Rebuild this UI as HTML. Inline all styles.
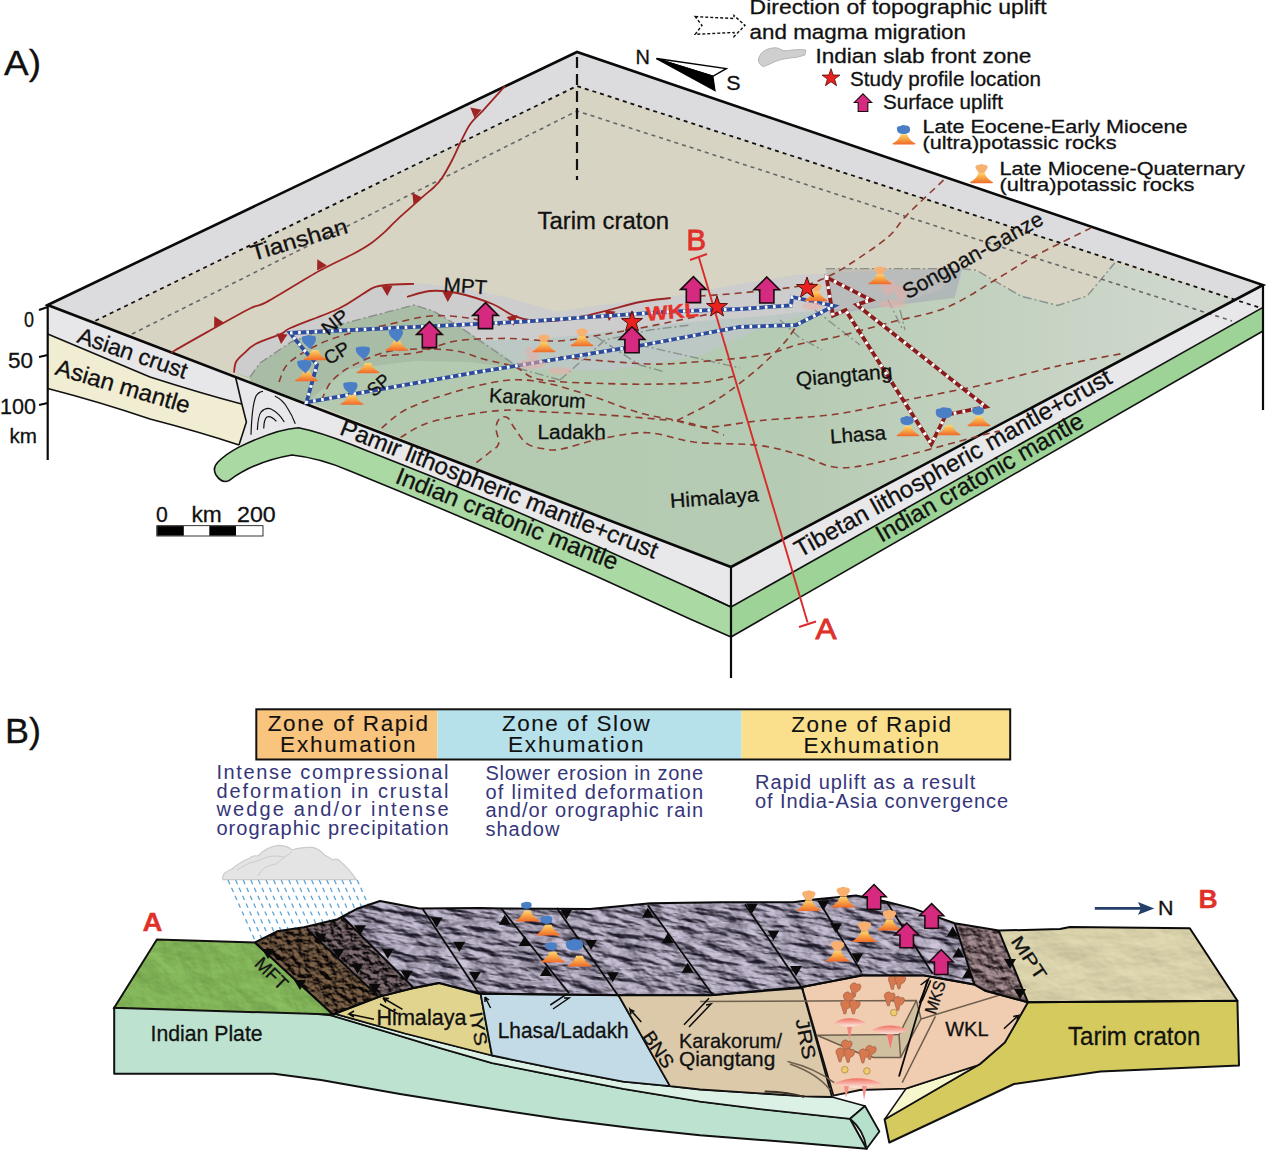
<!DOCTYPE html><html><head><meta charset="utf-8"><style>html,body{margin:0;padding:0;background:#fff;}svg{display:block}</style></head><body><svg width="1266" height="1152" viewBox="0 0 1266 1152"><path d="M47.7,305 L235.3,376 L241.6,403 L150,377 Q90,352 47.7,334 Z" fill="#e7e7ea" stroke="none"/>
<path d="M47.7,334 Q90,352 150,377 Q200,393 241.6,404 L246.4,422 L239,445 Q200,432 150,419 Q100,402 47.7,388.5 Z" fill="#f1edd3" stroke="none"/>
<path d="M235.3,376 L731,567 L731,607 L690,588 Q520,510 350,444 Q320,432 298.5,427.7 Q276,429 238.5,447.4 L246.4,422 L241.6,403 Z" fill="#e8e8ea"/>
<path d="M238.5,447.4 Q276,429 298.5,427.7 Q320,432 350,444 Q520,510 690,588 L731,607 L731,637 L690,619 Q520,540 350,471 Q320,458 292,455 Q254,461.6 229,480.6 Q222,484 216,475 Q212,468 218,462 Q226,454 238.5,447.4 Z" fill="#aad9a3" stroke="#111" stroke-width="1.6"/>
<path d="M731,567 L1263,285 L1263,307.4 L731,607 Z" fill="#e8e7ea"/>
<path d="M731,607 L1263,307.4 L1263,331 L731,637 Z" fill="#9dd396"/>
<g fill="none" stroke="#111" stroke-width="1.6"><path d="M47.7,334 Q90,352 150,377 Q200,393 241.6,404"/><path d="M47.7,388.5 Q100,402 150,419 Q200,432 239,445"/><path d="M235.3,376 L241.6,403 L246.4,422 L239,445"/><path d="M731,607 L1263,307.4"/><path d="M731,637 L1263,331"/><path d="M690,588 L731,607"/></g>
<g fill="none" stroke="#111" stroke-width="1.2"><path d="M251,434.8 Q252,405 256,396 Q259,391.5 263,391.3"/><path d="M257.4,430 Q258,416 261,412 Q266,407 271,409 Q279,413 284.3,422"/><path d="M263.7,428.5 Q264,419 267,417 Q271,415.5 276.4,421.4"/><path d="M274.8,396 Q283,400 287.4,408 Q292,415 295.3,423.7"/></g>
<polygon points="577.0,52.0 1263.0,285.0 731.0,567.0 47.7,305.0" fill="#d8d4c4"/>
<polygon points="47.7,305.0 577.0,52.0 1263.0,285.0 1236.0,299.3 1232.0,298.3 577.0,86.0 95.4,321.0" fill="#dcdcde"/>
<defs><linearGradient id="gg" x1="0" y1="0" x2="1" y2="0"><stop offset="0" stop-color="#b2c9af"/><stop offset="0.55" stop-color="#b6cbb3"/><stop offset="1" stop-color="#d2d9cf"/></linearGradient></defs>
<polygon points="234.0,373.0 250.0,377.0 260.0,363.0 291.0,342.0 338.0,325.0 414.0,305.0 433.0,311.0 457.0,325.0 480.0,340.0 530.0,340.0 590.0,334.0 650.0,326.0 700.0,321.0 764.0,316.0 800.0,312.0 846.0,309.0 880.0,306.0 910.0,300.0 940.0,290.0 960.0,270.0 975.0,271.0 1011.0,291.0 1056.0,305.0 1088.0,297.0 1113.0,263.0 1235.7,299.4 731.0,567.0" fill="url(#gg)"/>
<polygon points="250.0,377.0 260.0,363.0 291.0,342.0 338.0,325.0 414.0,305.0 433.0,311.0 457.0,325.0 500.0,352.0 521.0,369.0 470.0,362.0 415.0,361.0 349.0,369.0 319.0,392.0 306.0,403.6 250.0,382.5" fill="#a9bca6"/>
<polygon points="234.0,373.0 238.0,358.0 255.0,344.0 291.0,328.0 338.0,309.0 374.0,288.0 414.0,283.0 456.0,287.0 506.0,297.0 557.0,312.0 600.0,305.0 670.0,297.0 740.0,284.0 797.0,275.0 892.0,270.0 963.0,269.0 956.0,296.0 910.0,304.0 873.0,308.0 846.0,314.0 797.0,318.0 764.0,327.0 700.0,356.0 607.0,371.0 521.0,369.0 457.0,325.0 433.0,311.0 414.0,305.0 338.0,325.0 291.0,342.0 260.0,363.0 250.0,377.0" fill="rgb(196,198,214)" fill-opacity="0.5"/>
<polygon points="825.8,268.6 962,268.6 954.6,298 892,305.4 829.4,314.6" fill="rgb(120,125,122)" fill-opacity="0.22"/>
<g fill="none" stroke="#8a8f8a" stroke-width="1.4" stroke-dasharray="9,3,2,3"><path d="M250,377 L260,363 L291,342 L338,325 L414,305 L433,311 L457,325 L521,369 L560,380"/><path d="M560,380 L605,340 L650,330 L690,325"/><path d="M826,268.6 L962,268.6"/><path d="M962,268.6 L976.7,270.4 L1020.8,296.2 L1057.6,305.4 L1087,296.2 L1114.7,263"/><path d="M595,336 L640,365 L665,372"/><path d="M640,345 L740,368"/><path d="M780,320 L800,338 L822,350"/><path d="M815,310 L860,345"/><path d="M900,310 L905,330"/><path d="M888,300 L903,330"/></g>
<g fill="none" stroke="#111" stroke-width="1.8" stroke-dasharray="4,4"><path d="M95.4,320.8 L577,86 L1258.8,307.4"/></g>
<g fill="none" stroke="#666" stroke-width="1.6" stroke-dasharray="4,4"><path d="M132,334 L577,111 L1232,321"/></g>
<path d="M577,57 L577,180" stroke="#111" stroke-width="2.2" stroke-dasharray="11,6" fill="none"/>
<g fill="none" stroke="#0a0a0a" stroke-width="2.6" stroke-linejoin="miter"><path d="M47.7,305 L577,52 L1263,285 L731,567 Z"/></g>
<g fill="none" stroke="#0a0a0a" stroke-width="2.2"><path d="M47.7,305 L47.7,460"/><path d="M731,567 L731,678"/><path d="M1263,285 L1263,410"/><path d="M39,310 L47.7,307"/><path d="M39,357 L47.7,355"/><path d="M39,405 L47.7,403"/></g>
<g fill="none" stroke="#8e3a30" stroke-width="1.6" stroke-dasharray="7,5"><path d="M279.0,382.0 C280.6,378.8 281.9,369.3 288.7,363.0 C295.4,356.7 308.8,349.1 319.5,344.0 C330.2,338.9 341.6,335.6 352.7,332.4 C363.8,329.2 373.1,327.7 386.0,325.0 C398.9,322.3 416.3,317.2 430.0,316.0 C443.7,314.8 456.3,316.5 468.0,318.0 C479.7,319.5 494.7,323.8 500.0,325.0"/><path d="M321.6,400.0 C323.2,397.0 326.3,387.5 331.0,382.0 C335.7,376.5 340.8,372.0 350.0,367.0 C359.2,362.0 374.2,355.0 386.0,352.0 C397.8,349.0 409.2,349.2 421.0,349.0 C432.8,348.8 446.7,349.3 457.0,351.0 C467.3,352.7 473.3,356.3 483.0,359.0 C492.7,361.7 505.5,363.6 515.0,367.0 C524.5,370.4 524.8,376.8 540.0,379.6 C555.2,382.4 585.3,382.9 606.0,383.6 C626.7,384.3 647.3,384.3 664.0,384.0 C680.7,383.7 693.5,383.5 706.0,382.0 C718.5,380.5 733.5,376.2 739.0,375.0"/><path d="M381.7,428.0 C385.9,424.8 395.4,414.8 407.0,409.0 C418.6,403.2 434.7,397.8 451.0,393.0 C467.3,388.2 489.2,382.2 505.0,380.5 C520.8,378.8 531.0,380.2 546.0,383.0 C561.0,385.8 579.4,392.3 595.0,397.3 C610.6,402.3 625.8,408.9 639.5,412.8 C653.2,416.7 666.9,418.3 677.0,420.5 C687.1,422.7 692.2,423.6 700.0,426.0 C707.8,428.4 720.0,433.5 724.0,435.0"/><path d="M400.6,437.4 C405.8,434.8 415.7,426.1 432.0,421.6 C448.3,417.1 479.6,412.2 498.6,410.6 C517.6,409.0 528.1,411.3 546.0,412.0 C563.9,412.7 584.8,413.6 606.0,415.0 C627.2,416.4 661.8,419.6 673.0,420.5"/><path d="M677.0,421.0 C682.2,422.0 694.0,427.1 708.0,427.0 C722.0,426.9 739.5,422.7 761.0,420.5 C782.5,418.3 811.9,417.6 836.8,414.0 C861.7,410.4 885.9,404.1 910.4,399.2 C934.9,394.3 959.5,390.0 984.0,384.5 C1008.5,379.0 1034.3,371.3 1057.6,366.1 C1080.9,360.9 1112.9,355.4 1123.9,353.2"/><path d="M476.4,462.7 C478.7,460.9 486.3,455.2 490.0,452.0 C493.7,448.8 497.6,447.7 498.6,443.7 C499.6,439.7 495.8,432.3 496.0,428.0 C496.2,423.7 498.0,419.7 500.0,418.0 C502.0,416.3 505.6,416.3 508.0,418.0 C510.4,419.7 511.2,423.7 514.4,428.0 C517.6,432.3 521.9,440.2 527.0,443.7 C532.1,447.2 539.2,448.1 545.0,449.0 C550.8,449.9 552.6,450.7 561.8,449.0 C571.0,447.3 585.7,441.7 600.0,439.0 C614.3,436.3 631.6,432.2 647.4,432.7 C663.2,433.2 676.4,440.1 694.8,442.2 C713.2,444.3 740.5,443.2 758.0,445.3 C775.5,447.4 786.8,451.3 800.0,455.0 C813.2,458.7 822.9,466.5 837.0,467.5 C851.1,468.5 860.7,466.3 884.4,461.0 C908.1,455.7 959.7,440.9 979.0,435.9 C998.3,430.9 996.5,431.8 1000.0,431.0"/><path d="M560.0,357.0 C564.8,357.4 573.6,358.5 588.7,359.7 C603.8,360.9 632.9,363.6 650.6,364.0 C668.3,364.4 676.4,363.4 694.8,362.0 C713.2,360.6 743.7,358.3 761.2,355.3 C778.7,352.3 787.4,347.1 800.0,344.0 C812.6,340.9 821.5,340.4 836.8,336.7 C852.1,333.0 873.6,326.9 892.0,322.0 C910.4,317.1 929.4,314.6 947.2,307.2 C965.0,299.8 984.0,286.4 998.7,277.8 C1013.4,269.2 1020.1,264.0 1035.5,255.7 C1050.8,247.4 1081.6,232.7 1090.8,228.1"/><path d="M943.5,180.2 C937.4,186.0 916.0,205.7 906.7,215.2 C897.5,224.7 897.2,229.0 888.0,237.0 C878.8,245.0 861.8,256.2 851.5,263.0 C841.2,269.8 834.6,273.7 826.0,277.5 C817.4,281.3 814.3,283.4 800.0,286.0 C785.7,288.6 756.7,291.3 740.0,293.0 C723.3,294.7 706.7,295.5 700.0,296.0"/><path d="M677.0,420.5 C683.7,417.0 704.8,407.1 717.0,399.5 C729.2,391.9 740.8,382.6 750.0,375.2 C759.2,367.8 766.0,361.4 772.3,355.3 C778.6,349.2 783.3,344.2 787.7,338.7 C792.1,333.1 796.9,324.8 798.8,322.0"/><path d="M380.0,356.0 C386.3,355.4 405.4,354.8 418.0,352.3 C430.6,349.8 441.1,343.3 455.8,341.0 C470.5,338.7 489.5,338.4 506.4,338.4 C523.3,338.4 542.2,341.4 557.0,341.0 C571.8,340.6 582.4,337.7 595.0,335.8 C607.6,333.9 618.1,332.2 632.8,329.5 C647.5,326.8 668.5,322.3 683.0,319.4 C697.5,316.5 713.8,313.2 720.0,312.0"/></g>
<path d="M826.5,277.3 L833,315.6 L845.6,310.2 L931.3,444.1 L945.9,415 L986,406.8 L856.6,304.7 L871.1,300.1 Z" fill="none" stroke="#8a1c1c" stroke-width="3.8" stroke-linejoin="miter"/>
<path d="M826.5,277.3 L833,315.6 L845.6,310.2 L931.3,444.1 L945.9,415 L986,406.8 L856.6,304.7 L871.1,300.1 Z" fill="none" stroke="#fff" stroke-width="3.4" stroke-dasharray="2.8,6.2"/>
<g fill="none" stroke="#9e2424" stroke-width="1.8"><path d="M505.0,86.0 C504.2,87.0 503.7,87.5 500.0,91.7 C496.3,95.9 487.6,105.5 482.7,110.9 C477.8,116.3 474.0,118.7 470.3,123.9 C466.6,129.1 463.7,136.0 460.7,142.0 C457.7,148.0 455.3,154.0 452.2,160.0 C449.1,166.0 445.0,173.5 442.0,178.0 C439.0,182.5 437.5,183.8 434.2,187.0 C430.9,190.2 428.5,191.7 422.3,197.2 C416.1,202.7 403.4,213.9 397.0,219.8 C390.6,225.7 388.5,228.6 384.0,232.6 C379.5,236.6 375.0,240.5 370.0,244.0 C365.0,247.5 362.4,249.0 354.0,253.5 C345.6,258.0 333.9,262.8 319.5,270.8 C305.1,278.8 279.0,295.3 267.4,301.6 C255.8,307.9 259.9,303.5 250.0,308.5 C240.1,313.5 220.5,324.6 208.0,331.6 C195.5,338.6 180.8,346.9 174.8,350.5 C168.8,354.1 172.5,352.6 172.0,353.0"/><path d="M234.0,372.7 C234.3,370.9 234.4,365.2 236.0,362.0 C237.6,358.8 240.4,356.7 243.7,353.7 C246.9,350.7 249.2,347.4 255.5,344.0 C261.8,340.6 275.7,336.3 281.6,333.6 C287.5,330.9 281.5,331.9 291.0,327.7 C300.5,323.5 326.7,314.2 338.5,308.7 C350.3,303.2 356.1,298.1 362.0,294.5 C367.9,290.9 370.0,289.0 374.0,287.4 C378.0,285.8 379.3,285.6 386.0,285.0 C392.7,284.4 409.3,284.0 414.0,283.8"/><path d="M407.0,297.0 C410.8,296.0 421.7,291.7 430.0,291.0 C438.3,290.3 446.6,290.8 457.0,293.0 C467.4,295.2 483.0,300.2 492.5,304.0 C502.0,307.8 506.7,313.0 513.8,315.8 C520.9,318.6 527.8,320.2 535.0,321.0 C542.2,321.8 548.7,321.5 557.0,320.7 C565.3,319.9 576.6,317.7 585.0,316.0 C593.4,314.3 598.3,312.8 607.5,310.5 C616.7,308.2 629.5,304.1 640.0,302.0 C650.5,299.9 665.6,298.7 670.7,298.0"/></g>
<polygon points="481.5,109.8 474.5,118.2 470.3,107.6" fill="#9e2424"/>
<polygon points="422.5,197.8 413.5,204.2 412.3,192.8" fill="#9e2424"/>
<polygon points="326.9,265.4 317.1,270.6 317.3,259.2" fill="#9e2424"/>
<polygon points="223.9,322.4 214.1,327.6 214.3,316.2" fill="#9e2424"/>
<polygon points="276.5,333.5 287.5,334.5 281.1,344.0" fill="#9e2424"/>
<polygon points="381.5,286.2 392.5,285.8 387.3,296.0" fill="#9e2424"/>
<polygon points="506.6,317.0 517.4,315.0 513.7,325.8" fill="#9e2424"/>
<polygon points="604.5,310.5 615.5,311.5 609.1,321.0" fill="#9e2424"/>
<polygon points="442.5,291.8 453.5,292.2 447.7,302.0" fill="#9e2424"/>
<g stroke="#d82c2a" stroke-width="1.9" fill="none"><path d="M698.6,256.6 L807.6,622.4"/><path d="M690,260 L707,254"/><path d="M799,627 L816,621.5"/></g>
<polygon points="290.0,333.0 520.0,321.8 669.6,311.6 740.0,309.0 791.0,305.4 792.0,297.0 834.0,306.0 796.0,325.0 740.0,327.0 638.0,346.0 480.0,371.7 306.5,402.3 317.0,364.4 305.3,351.4" fill="none" stroke="#2d4b9c" stroke-width="3.8"/>
<polygon points="290.0,333.0 520.0,321.8 669.6,311.6 740.0,309.0 791.0,305.4 792.0,297.0 834.0,306.0 796.0,325.0 740.0,327.0 638.0,346.0 480.0,371.7 306.5,402.3 317.0,364.4 305.3,351.4" fill="none" stroke="#fff" stroke-width="3.2" stroke-dasharray="2.6,5.6"/>
<defs><linearGradient id="vg" x1="0" y1="0" x2="0" y2="1"><stop offset="0" stop-color="#fcd672"/><stop offset="0.45" stop-color="#f9a646"/><stop offset="1" stop-color="#ee6a2c"/></linearGradient><g id="arw"><path d="M0,-13 L12.8,-0.2 L7.1,-0.2 L7.1,13 L-7.1,13 L-7.1,-0.2 L-12.8,-0.2 Z" fill="#d52a7f" stroke="#1a0a10" stroke-width="1.6" stroke-linejoin="miter"/></g><g id="star"><path d="M0,-11 L2.6,-3.5 L10.5,-3.4 L4.2,1.3 L6.5,9 L0,4.4 L-6.5,9 L-4.2,1.3 L-10.5,-3.4 L-2.6,-3.5 Z" fill="#e8221e" stroke="#5a1010" stroke-width="1"/></g><g id="vol"><path d="M-3.2,-5 L3.2,-5 Q5,1 11.5,4.3 Q12,5.2 10,5.2 L-10,5.2 Q-12,5.2 -11.5,4.3 Q-5,1 -3.2,-5 Z" fill="url(#vg)"/></g><g id="blob"><path d="M-7,-5.5 Q-1,-7 6,-6 Q8.5,-3 5,2 Q3,5 1,7 Q-2,4 -5,1.5 Q-8,-2 -7,-5.5 Z" fill="#4a7fc6"/></g><g id="blob2"><path d="M-6.5,-1 Q-7.5,-4.5 -3,-4.5 Q-1,-6 2.5,-5 Q6.5,-5 6.5,-1.5 Q7,2 3.5,3 Q0,4 -2.5,3.2 Q-6.5,2.5 -6.5,-1 Z" fill="#4a7fc6"/></g><g id="mcap"><path d="M-2.5,-4.5 L-5.5,-9 Q-6,-12 -2,-12 Q0,-13.5 2,-12 Q6,-12 5.5,-9 L2.5,-4.5 Z" fill="#f8b070"/></g></defs>
<g fill="#e8b0a8" opacity="0.55"><ellipse cx="532" cy="364" rx="14" ry="5"/><ellipse cx="560" cy="371" rx="12" ry="4"/><ellipse cx="893" cy="304" rx="13" ry="4"/><ellipse cx="812" cy="306" rx="10" ry="4"/><path d="M525,352 q4,-10 8,-2 q4,-8 7,2 l-4,10 l-5,0 z"/><path d="M880,285 q4,-10 8,-2 q4,-8 7,2 l-4,10 l-5,0 z"/><path d="M893,290 q4,-10 8,-2 q4,-8 7,2 l-4,10 l-5,0 z"/></g>
<use href="#vol" transform="translate(315,355)"/>
<use href="#blob" transform="translate(309,342)"/>
<use href="#vol" transform="translate(306.5,376)"/>
<use href="#blob" transform="translate(304.5,366.5)"/>
<use href="#vol" transform="translate(368,368)"/>
<use href="#blob" transform="translate(363,353)"/>
<use href="#vol" transform="translate(397,345.5)"/>
<use href="#blob" transform="translate(396,335.5)"/>
<use href="#vol" transform="translate(352,399.5)"/>
<use href="#blob" transform="translate(350.5,388.5)"/>
<use href="#vol" transform="translate(908,431)"/>
<use href="#blob2" transform="translate(907,421.5)"/>
<use href="#vol" transform="translate(949,430)"/>
<use href="#blob2" transform="translate(944,414) scale(1.25)"/>
<use href="#vol" transform="translate(979,421)"/>
<use href="#blob2" transform="translate(978,411.5) scale(0.9)"/>
<use href="#vol" transform="translate(544,347)"/>
<use href="#mcap" transform="translate(544,347)"/>
<use href="#vol" transform="translate(582,341)"/>
<use href="#mcap" transform="translate(582,341)"/>
<use href="#vol" transform="translate(880,279)"/>
<use href="#mcap" transform="translate(880,279)"/>
<use href="#vol" transform="translate(816,296)"/>
<use href="#mcap" transform="translate(816,296)"/>
<use href="#arw" transform="translate(485.5,315.6)"/>
<use href="#arw" transform="translate(429.4,334.6)"/>
<use href="#arw" transform="translate(632,339.7)"/>
<use href="#arw" transform="translate(693.4,289.6)"/>
<use href="#arw" transform="translate(766.8,290)"/>
<use href="#star" transform="translate(632,322)"/>
<use href="#star" transform="translate(717,307)"/>
<use href="#star" transform="translate(807,288)"/>
<g font-family="Liberation Sans, sans-serif" stroke-width="0.3" paint-order="stroke">
<text x="4" y="75.1" font-size="35.5" fill="#111" stroke="#111" textLength="37" lengthAdjust="spacingAndGlyphs">A)</text>
<text x="537.5" y="229" font-size="23" fill="#111" stroke="#111" textLength="131.5" lengthAdjust="spacingAndGlyphs">Tarim craton</text>
<text x="253" y="261" font-size="22" fill="#111" stroke="#111" textLength="100.1" lengthAdjust="spacingAndGlyphs" transform="rotate(-16.43 253 261)">Tianshan</text>
<text x="443.3" y="291.3" font-size="20" fill="#111" stroke="#111" textLength="43.4" lengthAdjust="spacingAndGlyphs" transform="rotate(4 443.3 291.3)">MPT</text>
<text x="327.8" y="336" font-size="19" fill="#111" stroke="#111" textLength="28.7" lengthAdjust="spacingAndGlyphs" transform="rotate(-38.35 327.8 336)">NP</text>
<text x="329" y="365.6" font-size="19" fill="#111" stroke="#111" textLength="26.6" lengthAdjust="spacingAndGlyphs" transform="rotate(-32.26 329 365.6)">CP</text>
<text x="374" y="397.6" font-size="19" fill="#111" stroke="#111" textLength="23.5" lengthAdjust="spacingAndGlyphs" transform="rotate(-40.87 374 397.6)">SP</text>
<text x="488.8" y="402" font-size="20" fill="#111" stroke="#111" textLength="96.7" lengthAdjust="spacingAndGlyphs" transform="rotate(3.7 488.8 402)">Karakorum</text>
<text x="537.5" y="438.9" font-size="20.5" fill="#111" stroke="#111" textLength="68.3" lengthAdjust="spacingAndGlyphs">Ladakh</text>
<text x="796.5" y="386.5" font-size="20.5" fill="#111" stroke="#111" textLength="96.7" lengthAdjust="spacingAndGlyphs" transform="rotate(-5 796.5 386.5)">Qiangtang</text>
<text x="830.6" y="443.4" font-size="20" fill="#111" stroke="#111" textLength="55.9" lengthAdjust="spacingAndGlyphs" transform="rotate(-4 830.6 443.4)">Lhasa</text>
<text x="670.4" y="507.9" font-size="20.5" fill="#111" stroke="#111" textLength="89" lengthAdjust="spacingAndGlyphs" transform="rotate(-4.3 670.4 507.9)">Himalaya</text>
<text x="907.5" y="299.5" font-size="21.5" fill="#111" stroke="#111" textLength="157.1" lengthAdjust="spacingAndGlyphs" transform="rotate(-28.93 907.5 299.5)">Songpan-Ganze</text>
<text x="646.4" y="321" font-size="20" font-weight="bold" fill="#e8302a" stroke="#e8302a" textLength="53" lengthAdjust="spacingAndGlyphs" transform="rotate(-5 646.4 321)">WKL</text>
<text x="686.5" y="250" font-size="29" fill="#e0302a" stroke="#e0302a" stroke-width="0.9" textLength="19.5" lengthAdjust="spacingAndGlyphs">B</text>
<text x="815.5" y="639" font-size="29" fill="#e0302a" stroke="#e0302a" stroke-width="0.9" textLength="21" lengthAdjust="spacingAndGlyphs">A</text>
<text x="76" y="342" font-size="23" fill="#111" stroke="#111" textLength="114.4" lengthAdjust="spacingAndGlyphs" transform="rotate(18.86 76 342)">Asian crust</text>
<text x="54" y="374.2" font-size="23.5" fill="#111" stroke="#111" textLength="139.1" lengthAdjust="spacingAndGlyphs" transform="rotate(16.49 54 374.2)">Asian mantle</text>
<text x="338.5" y="434" font-size="24" fill="#111" stroke="#111" textLength="339.4" lengthAdjust="spacingAndGlyphs" transform="rotate(21.61 338.5 434)">Pamir lithospheric mantle+crust</text>
<text x="394" y="482.5" font-size="24" fill="#111" stroke="#111" textLength="237.3" lengthAdjust="spacingAndGlyphs" transform="rotate(21.8 394 482.5)">Indian cratonic mantle</text>
<text x="800" y="558" font-size="24" fill="#111" stroke="#111" textLength="359.3" lengthAdjust="spacingAndGlyphs" transform="rotate(-29.24 800 558)">Tibetan lithospheric mantle+crust</text>
<text x="881.5" y="543" font-size="24" fill="#111" stroke="#111" textLength="235.2" lengthAdjust="spacingAndGlyphs" transform="rotate(-29.84 881.5 543)">Indian cratonic mantle</text>
<text x="24" y="327" font-size="22" fill="#111" stroke="#111" textLength="10" lengthAdjust="spacingAndGlyphs">0</text>
<text x="8" y="368" font-size="22" fill="#111" stroke="#111" textLength="25" lengthAdjust="spacingAndGlyphs">50</text>
<text x="0" y="414" font-size="22" fill="#111" stroke="#111" textLength="36" lengthAdjust="spacingAndGlyphs">100</text>
<text x="9.5" y="443" font-size="20" fill="#111" stroke="#111" textLength="27.5" lengthAdjust="spacingAndGlyphs">km</text>
<text x="156" y="522" font-size="22" fill="#111" stroke="#111" textLength="11.8" lengthAdjust="spacingAndGlyphs">0</text>
<text x="191.5" y="522" font-size="22" fill="#111" stroke="#111" textLength="30.3" lengthAdjust="spacingAndGlyphs">km</text>
<text x="237" y="522" font-size="22" fill="#111" stroke="#111" textLength="38.7" lengthAdjust="spacingAndGlyphs">200</text>
<rect x="157.2" y="526.1" width="105.4" height="9.5" fill="#fff" stroke="#000" stroke-width="1.6"/><rect x="157.2" y="526.1" width="26.6" height="9.5" fill="#000"/><rect x="209.3" y="526.1" width="26.7" height="9.5" fill="#000"/>
<text x="749.6" y="14.2" font-size="20.5" fill="#111" stroke="#111" textLength="297" lengthAdjust="spacingAndGlyphs">Direction of topographic uplift</text>
<text x="749.6" y="38.5" font-size="20.5" fill="#111" stroke="#111" textLength="216.4" lengthAdjust="spacingAndGlyphs">and magma migration</text>
<text x="815.4" y="62.6" font-size="20.5" fill="#111" stroke="#111" textLength="216" lengthAdjust="spacingAndGlyphs">Indian slab front zone</text>
<text x="850" y="85.7" font-size="19.5" fill="#111" stroke="#111" textLength="191" lengthAdjust="spacingAndGlyphs">Study profile location</text>
<text x="883" y="109.3" font-size="19.5" fill="#111" stroke="#111" textLength="120" lengthAdjust="spacingAndGlyphs">Surface uplift</text>
<text x="922.5" y="132.9" font-size="19" fill="#111" stroke="#111" textLength="265" lengthAdjust="spacingAndGlyphs">Late Eocene-Early Miocene</text>
<text x="922.5" y="149.3" font-size="19" fill="#111" stroke="#111" textLength="194" lengthAdjust="spacingAndGlyphs">(ultra)potassic rocks</text>
<text x="999.5" y="174.7" font-size="19" fill="#111" stroke="#111" textLength="245.4" lengthAdjust="spacingAndGlyphs">Late Miocene-Quaternary</text>
<text x="999.5" y="190.5" font-size="19" fill="#111" stroke="#111" textLength="195" lengthAdjust="spacingAndGlyphs">(ultra)potassic rocks</text>
<text x="635.5" y="64.1" font-size="20" fill="#111" stroke="#111" textLength="14.4" lengthAdjust="spacingAndGlyphs">N</text>
<text x="726.2" y="89.6" font-size="20" fill="#111" stroke="#111" textLength="14.3" lengthAdjust="spacingAndGlyphs">S</text>
</g>
<path d="M656.5,58.6 L726.2,68.6 L712.9,76.3 Z" fill="#fff" stroke="#000" stroke-width="1.5"/><path d="M656.5,58.6 L712.9,76.3 L715,90.7 Z" fill="#000" stroke="#000" stroke-width="1.2"/>
<path d="M695.2,16.6 L734,18.5 L734,15.5 L745,25.4 L734,36.5 L734,32.5 L695.2,34.3 L702,25.4 Z" fill="none" stroke="#111" stroke-width="1.4" stroke-dasharray="3,2"/>
<path d="M758.5,59 Q760,52 768,49 Q776,46.5 780,49 Q784,52 792,50 Q800,49 805.8,50 L805,55 Q797,58 790,58 Q780,59 774,62 Q766,66 763,66.5 Q758,64 758.5,59 Z" fill="#cfcfcf" stroke="#aaa" stroke-width="0.8"/>
<use href="#star" transform="translate(831,78) scale(0.85)"/>
<use href="#arw" transform="translate(863,102.6) scale(0.68)"/>
<use href="#vol" transform="translate(904,139.2)"/>
<use href="#blob2" transform="translate(903.5,130.5)"/>
<use href="#vol" transform="translate(981.5,178)"/>
<use href="#mcap" transform="translate(981.5,178) scale(1.1)"/>
<defs><filter id="fPur" x="0" y="0" width="1" height="1" color-interpolation-filters="sRGB"><feTurbulence type="fractalNoise" baseFrequency="0.03 0.12" numOctaves="4" seed="11" result="n"/><feDiffuseLighting in="n" surfaceScale="8.0" diffuseConstant="1" lighting-color="#f8f2fc" result="l"><feDistantLight azimuth="320" elevation="48"/></feDiffuseLighting><feFlood flood-color="#1c1826" result="f"/><feComposite in="l" in2="f" operator="arithmetic" k2="0.72" k3="1"/></filter><filter id="fBrn" x="0" y="0" width="1" height="1" color-interpolation-filters="sRGB"><feTurbulence type="fractalNoise" baseFrequency="0.15 0.17" numOctaves="4" seed="5" result="n"/><feDiffuseLighting in="n" surfaceScale="4.5" diffuseConstant="1" lighting-color="#f0c090" result="l"><feDistantLight azimuth="300" elevation="38"/></feDiffuseLighting><feFlood flood-color="#0a0604" result="f"/><feComposite in="l" in2="f" operator="arithmetic" k2="0.5" k3="1"/></filter><filter id="fBrn2" x="0" y="0" width="1" height="1" color-interpolation-filters="sRGB"><feTurbulence type="fractalNoise" baseFrequency="0.15 0.17" numOctaves="4" seed="6" result="n"/><feDiffuseLighting in="n" surfaceScale="4.5" diffuseConstant="1" lighting-color="#e8ccd0" result="l"><feDistantLight azimuth="300" elevation="38"/></feDiffuseLighting><feFlood flood-color="#0c080a" result="f"/><feComposite in="l" in2="f" operator="arithmetic" k2="0.53" k3="1"/></filter><filter id="fGrn" x="0" y="0" width="1" height="1" color-interpolation-filters="sRGB"><feTurbulence type="fractalNoise" baseFrequency="0.04 0.04" numOctaves="4" seed="3" result="n"/><feDiffuseLighting in="n" surfaceScale="1.5" diffuseConstant="1" lighting-color="#ccf5a8" result="l"><feDistantLight azimuth="300" elevation="50"/></feDiffuseLighting><feFlood flood-color="#2a4a10" result="f"/><feComposite in="l" in2="f" operator="arithmetic" k2="0.55" k3="1"/></filter><filter id="fTar" x="0" y="0" width="1" height="1" color-interpolation-filters="sRGB"><feTurbulence type="fractalNoise" baseFrequency="0.02 0.035" numOctaves="4" seed="9" result="n"/><feDiffuseLighting in="n" surfaceScale="2.2" diffuseConstant="1" lighting-color="#fffae1" result="l"><feDistantLight azimuth="300" elevation="55"/></feDiffuseLighting><feFlood flood-color="#797355" result="f"/><feComposite in="l" in2="f" operator="arithmetic" k2="0.45" k3="1"/></filter><filter id="fMpt" x="0" y="0" width="1" height="1" color-interpolation-filters="sRGB"><feTurbulence type="fractalNoise" baseFrequency="0.1 0.12" numOctaves="4" seed="8" result="n"/><feDiffuseLighting in="n" surfaceScale="4.0" diffuseConstant="1" lighting-color="#ffe6ea" result="l"><feDistantLight azimuth="300" elevation="40"/></feDiffuseLighting><feFlood flood-color="#1c1214" result="f"/><feComposite in="l" in2="f" operator="arithmetic" k2="0.58" k3="1"/></filter></defs>
<rect x="256.3" y="709.3" width="181.1" height="50.2" fill="#f9c47e"/><rect x="437.4" y="709.3" width="304.2" height="50.2" fill="#b6e1ea"/><rect x="741.6" y="709.3" width="268.6" height="50.2" fill="#fae08d"/><rect x="256.3" y="709.3" width="753.9" height="50.2" fill="none" stroke="#111" stroke-width="2"/>
<path d="M222.8,876.3 Q224,872 232,869 Q240,862 250,858 Q253,855 258,856 Q266,847 278.5,845.4 Q289,846 292,850 Q300,847 312,847.4 Q320,849 324,854.8 Q330,858 333,860 Q337,858 340,861 Q350,870 356.4,879.6 L222.8,879.6 Z" fill="#e4e4e4" stroke="#cbcbcb" stroke-width="1.2"/><path d="M237,870 Q248,862 260,860 Q270,854 284,857 M258,876 Q262,866 276,864 Q284,857 292,852" fill="none" stroke="#cbcbcb" stroke-width="1"/>
<g stroke="#5da3d8" stroke-width="1.3" stroke-dasharray="4.6,4" fill="none"><path d="M228.0,880 l33.5,75"/><path d="M235.6,880 l33.5,75"/><path d="M243.2,880 l33.5,75"/><path d="M250.8,880 l33.5,75"/><path d="M258.4,880 l33.5,75"/><path d="M266.0,880 l33.5,75"/><path d="M273.6,880 l33.5,75"/><path d="M281.2,880 l33.5,75"/><path d="M288.8,880 l33.5,75"/><path d="M296.4,880 l33.5,75"/><path d="M304.0,880 l33.5,75"/><path d="M311.6,880 l33.5,75"/><path d="M319.2,880 l33.5,75"/><path d="M326.8,880 l33.5,75"/><path d="M334.4,880 l33.5,75"/><path d="M342.0,880 l33.5,75"/><path d="M349.6,880 l33.5,75"/><path d="M357.2,880 l33.5,75"/></g>
<polygon points="114.2,1007.6 271.0,1009.6 331.0,1015.3 384.0,1031.0 440.0,1048.0 492.0,1063.0 560.0,1076.6 623.0,1088.7 700.0,1101.5 760.0,1109.0 850.0,1118.8 866.6,1148.8 800.0,1143.0 700.0,1135.3 635.8,1128.5 560.0,1119.0 500.0,1110.0 400.0,1094.0 321.0,1080.0 274.0,1073.7 114.2,1073.7" fill="#bde3d0" stroke="#111" stroke-width="2" stroke-linejoin="round"/>
<polygon points="334.0,1013.6 405.0,1033.5 492.0,1055.5 560.0,1069.7 623.2,1081.7 670.0,1086.1 700.0,1089.5 805.0,1096.3 832.0,1097.0 865.0,1106.0 850.0,1118.8 760.0,1109.0 700.0,1101.5 623.0,1088.7 560.0,1076.6 492.0,1063.0 440.0,1048.0 384.0,1031.0 331.0,1015.3" fill="#dcf1e6" stroke="#111" stroke-width="1.6" stroke-linejoin="round"/>
<path d="M850,1118.8 L865,1106 L879.4,1131.5 L866.6,1148.8 Q864,1130 850,1118.8 Z" fill="#b6e0cc" stroke="#111" stroke-width="1.8" stroke-linejoin="round"/>
<clipPath id="cG"><polygon points="156.9,939.5 255.0,942.4 333.0,1014.5 114.2,1007.8"/></clipPath>
<rect x="112.2" y="937.5" width="222.8" height="79.0" filter="url(#fGrn)" clip-path="url(#cG)"/>
<polygon points="156.9,939.5 255.0,942.4 333.0,1014.5 114.2,1007.8" fill="none" stroke="#111" stroke-width="2"/>
<clipPath id="cB"><polygon points="255.0,942.4 277.1,931.3 304.0,927.3 306.8,929.0 377.7,996.0 379.7,996.6 333.0,1014.5"/></clipPath>
<rect x="253.0" y="925.3" width="128.7" height="91.2" filter="url(#fBrn)" clip-path="url(#cB)"/>
<clipPath id="cB2"><polygon points="306.8,929.0 304.0,927.3 337.6,919.2 342.7,917.0 413.8,988.0 379.7,996.6 377.7,996.0"/></clipPath>
<rect x="302.0" y="915.0" width="113.8" height="83.6" filter="url(#fBrn2)" clip-path="url(#cB2)"/>
<clipPath id="cP"><polygon points="342.7,917.0 357.7,908.5 380.0,901.0 419.5,908.4 480.0,908.0 502.0,908.4 590.0,909.0 650.6,903.3 720.0,902.3 793.3,902.2 816.0,899.3 856.0,895.6 884.3,901.3 912.8,908.4 954.7,923.3 974.3,984.5 923.8,975.4 862.0,975.4 802.0,987.0 711.0,995.2 618.5,995.2 479.2,993.7 439.0,983.0 413.8,988.0"/></clipPath>
<g clip-path="url(#cP)"><rect x="150.0" y="702.9" width="1017.0" height="485.0" filter="url(#fPur)" transform="rotate(8 658.5 945.4)"/></g>
<clipPath id="cM"><polygon points="954.7,923.3 998.8,930.6 1027.9,1002.3 985.4,990.8 974.3,984.5"/></clipPath>
<rect x="952.7" y="921.3" width="77.2" height="83.0" filter="url(#fMpt)" clip-path="url(#cM)"/>
<clipPath id="cT"><polygon points="998.8,930.6 1060.0,929.0 1070.0,927.0 1189.8,928.2 1237.4,1000.8 1027.9,1002.3"/></clipPath>
<rect x="996.8" y="925.0" width="242.6" height="79.3" filter="url(#fTar)" clip-path="url(#cT)"/>
<polygon points="1027.9,1002.3 1237.4,1000.8 1239,1065.5 1100.3,1071.6 1014,1084 889.3,1142.5 884.6,1119.4 980,1064 1004.8,1042.4" fill="#d5ca5e" stroke="#111" stroke-width="2" stroke-linejoin="round"/>
<polygon points="884.6,1119.4 906,1088.6 977,1065.5 980,1064" fill="#f8f6cc" stroke="#111" stroke-width="1.6"/>
<polygon points="334,1013.6 379.7,996.6 413.8,988 439,983 480.6,993.7 492,1055.5 405,1033.5" fill="#e1d48f" stroke="#111" stroke-width="1.8" stroke-linejoin="round"/>
<polygon points="480.6,993.7 618.5,995.2 670,1086.1 623.2,1081.7 560,1069.7 492,1055.5" fill="#c2dbe7" stroke="#111" stroke-width="1.8" stroke-linejoin="round"/>
<polygon points="618.5,995.2 711,995.2 802,988 832,1097 805,1096.3 700,1089.5 670,1086.1" fill="#dcc9a9" stroke="#111" stroke-width="1.8" stroke-linejoin="round"/>
<polygon points="802,987 862,975.4 923.8,975.4 974.3,984.5 985.4,990.8 1027.9,1002.3 1004.8,1042.4 980,1064 977,1065.5 906,1088.6 860,1090 833.4,1095.6" fill="#f0cdb0" stroke="#111" stroke-width="1.8" stroke-linejoin="round"/>
<polygon points="816.9,1035.3 899,1034.5 900.6,1057.4 873.7,1057.4 858,1052.7" fill="#cdbf9f" opacity="0.9"/>
<polygon points="899,1034.5 916.4,1000.5 921,1019 900.6,1057.4" fill="#cdbf9f" opacity="0.9"/>
<polygon points="618.5,995.2 711,995.2 802.7,1001 760,1001.3 640,1001" fill="#d3c3a3" opacity="0.0"/>
<g fill="none" stroke="#6e5f4e" stroke-width="1.5"><path d="M700,1001.5 L916.4,1000.5 L921,1019 L900.6,1057.4 L873.7,1057.4 L858,1052.7 L816.9,1035.3 L899,1034.5 L916.4,1000.5"/><path d="M899,1034.5 L900.6,1057.4"/><path d="M787.6,1061.4 Q815,1068 834.2,1082.7"/><path d="M790,1064 Q818,1074 830,1090"/><path d="M935.4,1016.3 L902.2,1082.7"/><path d="M921,1019 L1000,995 L1022,997"/></g>
<path d="M764.7,1091.4 Q790,1092 804.2,1097" fill="none" stroke="#3a3028" stroke-width="2"/>
<defs><radialGradient id="pg" cx="0.5" cy="0.35" r="0.6"><stop offset="0" stop-color="#ec5a50"/><stop offset="0.6" stop-color="#f09080"/><stop offset="1" stop-color="#fbe4dc"/></radialGradient><linearGradient id="pg2" x1="0" y1="0" x2="0" y2="1"><stop offset="0" stop-color="#f07060"/><stop offset="1" stop-color="#fde8e0"/></linearGradient></defs>
<g><path d="M834,1022.7 Q849,1014 866,1022.7 Q849,1030 834,1022.7 Z" fill="url(#pg2)"/><path d="M847,1027 L849.5,1040 L852,1027 Z" fill="#f08a80"/><path d="M872,1029.8 Q890,1021 908,1029.8 Q890,1039 872,1029.8 Z" fill="url(#pg2)"/><path d="M887,1034 L890.3,1049 L893.5,1034 Z" fill="#f07a70"/><path d="M833,1083.5 Q858,1073 882,1083.5 Q858,1092 833,1083.5 Z" fill="url(#pg2)"/><path d="M844,1086 L846,1098 L849,1086 Z M862,1086 L864,1100 L867,1086 Z" fill="#f09088"/></g>
<g transform="translate(854.2,994) scale(0.95)"><path d="M-3,-4 Q-6,-9 -2,-11 Q1,-13 3,-10 Q7,-12 7,-7 Q6,-3 2,-2 L1,3 L-1,3 Z" fill="#d8784e" stroke="#a0644a" stroke-width="0.8"/></g>
<g transform="translate(847.4,1003) scale(0.95)"><path d="M-3,-4 Q-6,-9 -2,-11 Q1,-13 3,-10 Q7,-12 7,-7 Q6,-3 2,-2 L1,3 L-1,3 Z" fill="#d8784e" stroke="#a0644a" stroke-width="0.8"/></g>
<g transform="translate(844.8,1011) scale(0.95)"><path d="M-3,-4 Q-6,-9 -2,-11 Q1,-13 3,-10 Q7,-12 7,-7 Q6,-3 2,-2 L1,3 L-1,3 Z" fill="#d8784e" stroke="#a0644a" stroke-width="0.8"/></g>
<g transform="translate(853.5,1011) scale(0.95)"><path d="M-3,-4 Q-6,-9 -2,-11 Q1,-13 3,-10 Q7,-12 7,-7 Q6,-3 2,-2 L1,3 L-1,3 Z" fill="#d8784e" stroke="#a0644a" stroke-width="0.8"/></g>
<g transform="translate(892.4,986.5) scale(0.95)"><path d="M-3,-4 Q-6,-9 -2,-11 Q1,-13 3,-10 Q7,-12 7,-7 Q6,-3 2,-2 L1,3 L-1,3 Z" fill="#d8784e" stroke="#a0644a" stroke-width="0.8"/></g>
<g transform="translate(899,986) scale(0.95)"><path d="M-3,-4 Q-6,-9 -2,-11 Q1,-13 3,-10 Q7,-12 7,-7 Q6,-3 2,-2 L1,3 L-1,3 Z" fill="#d8784e" stroke="#a0644a" stroke-width="0.8"/></g>
<g transform="translate(888.4,1003) scale(0.95)"><path d="M-3,-4 Q-6,-9 -2,-11 Q1,-13 3,-10 Q7,-12 7,-7 Q6,-3 2,-2 L1,3 L-1,3 Z" fill="#d8784e" stroke="#a0644a" stroke-width="0.8"/></g>
<g transform="translate(897.8,1007.5) scale(0.95)"><path d="M-3,-4 Q-6,-9 -2,-11 Q1,-13 3,-10 Q7,-12 7,-7 Q6,-3 2,-2 L1,3 L-1,3 Z" fill="#d8784e" stroke="#a0644a" stroke-width="0.8"/></g>
<g transform="translate(845.4,1051) scale(0.95)"><path d="M-3,-4 Q-6,-9 -2,-11 Q1,-13 3,-10 Q7,-12 7,-7 Q6,-3 2,-2 L1,3 L-1,3 Z" fill="#d8784e" stroke="#a0644a" stroke-width="0.8"/></g>
<g transform="translate(840,1059) scale(0.95)"><path d="M-3,-4 Q-6,-9 -2,-11 Q1,-13 3,-10 Q7,-12 7,-7 Q6,-3 2,-2 L1,3 L-1,3 Z" fill="#d8784e" stroke="#a0644a" stroke-width="0.8"/></g>
<g transform="translate(848.1,1059.5) scale(0.95)"><path d="M-3,-4 Q-6,-9 -2,-11 Q1,-13 3,-10 Q7,-12 7,-7 Q6,-3 2,-2 L1,3 L-1,3 Z" fill="#d8784e" stroke="#a0644a" stroke-width="0.8"/></g>
<g transform="translate(869.6,1056.5) scale(0.95)"><path d="M-3,-4 Q-6,-9 -2,-11 Q1,-13 3,-10 Q7,-12 7,-7 Q6,-3 2,-2 L1,3 L-1,3 Z" fill="#d8784e" stroke="#a0644a" stroke-width="0.8"/></g>
<g transform="translate(862.9,1060) scale(0.95)"><path d="M-3,-4 Q-6,-9 -2,-11 Q1,-13 3,-10 Q7,-12 7,-7 Q6,-3 2,-2 L1,3 L-1,3 Z" fill="#d8784e" stroke="#a0644a" stroke-width="0.8"/></g>
<circle cx="844.8" cy="1069.7" r="3.3" fill="#f0cc6a" stroke="#a88a50" stroke-width="0.8"/>
<circle cx="866.9" cy="1071" r="3.3" fill="#f0cc6a" stroke="#a88a50" stroke-width="0.8"/>
<circle cx="893.8" cy="1012.6" r="3.3" fill="#f0cc6a" stroke="#a88a50" stroke-width="0.8"/>
<g fill="none" stroke="#0a0a0a" stroke-width="2" stroke-linejoin="round"><polyline points="255.0,942.4 277.1,931.3 304.0,927.3 337.6,919.2 357.7,908.5 380.0,901.0 419.5,908.4 480.0,908.0 502.0,908.4 590.0,909.0 650.6,903.3 720.0,902.3 793.3,902.2 816.0,899.3 856.0,895.6 884.3,901.3 912.8,908.4 954.7,923.3 998.8,930.6 1060.0,929.0 1070.0,927.0 1189.8,928.2 1237.4,1000.8 1027.9,1002.3 985.4,990.8 974.3,984.5 923.8,975.4 862.0,975.4 802.0,987.0 711.0,995.2 618.5,995.2 479.2,993.7 439.0,983.0 413.8,988.0 379.7,996.6 333.0,1014.5"/><path d="M342.7,917 L413.8,988"/><path d="M255,942.4 L333,1014.5"/><path d="M954.7,923.3 L974.3,984.5"/><path d="M998.8,930.6 L1027.9,1002.3"/></g>
<g stroke="#0a0a0a" stroke-width="1.8" fill="none"><path d="M306.8,929 L377.7,996"/><path d="M422.4,908.4 L479.2,993.7"/><path d="M500.9,908 L569.1,993.3"/><path d="M556.8,908 L618.4,996"/><path d="M647.8,905.2 L712.2,994.3"/><path d="M745,904.2 L803.3,990"/><path d="M819,901.3 L861.6,972.4"/><path d="M887.2,902.7 L932.7,973.8"/></g>
<polygon points="430.6,917.6 442.6,917.6 436.6,927.6" fill="#0a0a0a"/>
<polygon points="453.3,941.8 465.3,941.8 459.3,951.8" fill="#0a0a0a"/>
<polygon points="469.0,971.7 481.0,971.7 475.0,981.7" fill="#0a0a0a"/>
<polygon points="560.3,909.6 572.3,909.6 566.3,919.6" fill="#0a0a0a"/>
<polygon points="585.0,940.0 597.0,940.0 591.0,950.0" fill="#0a0a0a"/>
<polygon points="606.7,972.2 618.7,972.2 612.7,982.2" fill="#0a0a0a"/>
<polygon points="746.0,903.4 758.0,903.4 752.0,913.4" fill="#0a0a0a"/>
<polygon points="767.4,930.4 779.4,930.4 773.4,940.4" fill="#0a0a0a"/>
<polygon points="790.0,966.0 802.0,966.0 796.0,976.0" fill="#0a0a0a"/>
<polygon points="817.2,900.6 829.2,900.6 823.2,910.6" fill="#0a0a0a"/>
<polygon points="830.0,923.3 842.0,923.3 836.0,933.3" fill="#0a0a0a"/>
<polygon points="851.3,953.2 863.3,953.2 857.3,963.2" fill="#0a0a0a"/>
<polygon points="1004.0,959.0 1016.0,959.0 1010.0,969.0" fill="#0a0a0a"/>
<polygon points="1014.0,989.0 1026.0,989.0 1020.0,999.0" fill="#0a0a0a"/>
<polygon points="354.0,925.2 366.0,925.2 360.0,935.2" fill="#0a0a0a"/>
<polygon points="381.8,948.7 393.8,948.7 387.8,958.7" fill="#0a0a0a"/>
<polygon points="400.8,970.8 412.8,970.8 406.8,980.8" fill="#0a0a0a"/>
<polygon points="314.7,933.5 326.7,933.5 320.7,943.5" fill="#0a0a0a"/>
<polygon points="332.4,948.7 344.4,948.7 338.4,958.7" fill="#0a0a0a"/>
<polygon points="351.5,963.8 363.5,963.8 357.5,973.8" fill="#0a0a0a"/>
<polygon points="368.6,984.0 380.6,984.0 374.6,994.0" fill="#0a0a0a"/>
<polygon points="262.0,949.0 274.0,949.0 268.0,959.0" fill="#0a0a0a"/>
<polygon points="294.0,980.0 306.0,980.0 300.0,990.0" fill="#0a0a0a"/>
<polygon points="498.8,924.8 510.8,924.8 504.8,914.8" fill="#0a0a0a"/>
<polygon points="518.7,946.0 530.7,946.0 524.7,936.0" fill="#0a0a0a"/>
<polygon points="540.0,976.0 552.0,976.0 546.0,966.0" fill="#0a0a0a"/>
<polygon points="641.8,917.7 653.8,917.7 647.8,907.7" fill="#0a0a0a"/>
<polygon points="661.7,943.3 673.7,943.3 667.7,933.3" fill="#0a0a0a"/>
<polygon points="681.6,972.7 693.6,972.7 687.6,962.7" fill="#0a0a0a"/>
<polygon points="946.7,936.4 958.7,936.4 952.7,926.4" fill="#0a0a0a"/>
<polygon points="952.5,957.5 964.5,957.5 958.5,947.5" fill="#0a0a0a"/>
<polygon points="962.0,978.6 974.0,978.6 968.0,968.6" fill="#0a0a0a"/>
<g font-family="Liberation Sans, sans-serif" stroke-width="0.3" paint-order="stroke">
<text x="5" y="743" font-size="35" fill="#111" stroke="#111" textLength="36" lengthAdjust="spacingAndGlyphs">B)</text>
<text x="267.8" y="731" font-size="22.5" fill="#111" stroke="#111" stroke-width="0.1" textLength="160.1" lengthAdjust="spacing">Zone of Rapid</text>
<text x="280" y="751.6" font-size="22.5" fill="#111" stroke="#111" stroke-width="0.1" textLength="135.6" lengthAdjust="spacing">Exhumation</text>
<text x="501.9" y="731" font-size="22.5" fill="#111" stroke="#111" stroke-width="0.1" textLength="147.8" lengthAdjust="spacing">Zone of Slow</text>
<text x="508" y="751.6" font-size="22.5" fill="#111" stroke="#111" stroke-width="0.1" textLength="135.5" lengthAdjust="spacing">Exhumation</text>
<text x="791.3" y="732.4" font-size="22.5" fill="#111" stroke="#111" stroke-width="0.1" textLength="159.7" lengthAdjust="spacing">Zone of Rapid</text>
<text x="803.4" y="753.4" font-size="22.5" fill="#111" stroke="#111" stroke-width="0.1" textLength="135.6" lengthAdjust="spacing">Exhumation</text>
<text x="216.4" y="779.0" font-size="20" fill="#35357a" stroke="#35357a" stroke-width="0" textLength="232.1" lengthAdjust="spacing">Intense compressional</text>
<text x="216.4" y="797.5" font-size="20" fill="#35357a" stroke="#35357a" stroke-width="0" textLength="232.1" lengthAdjust="spacing">deformation in crustal</text>
<text x="216.4" y="816.0" font-size="20" fill="#35357a" stroke="#35357a" stroke-width="0" textLength="232.1" lengthAdjust="spacing">wedge and/or intense</text>
<text x="216.4" y="834.5" font-size="20" fill="#35357a" stroke="#35357a" stroke-width="0" textLength="232.1" lengthAdjust="spacing">orographic precipitation</text>
<text x="485.4" y="780.3" font-size="20" fill="#35357a" stroke="#35357a" stroke-width="0" textLength="217.6" lengthAdjust="spacing">Slower erosion in zone</text>
<text x="485.4" y="798.6999999999999" font-size="20" fill="#35357a" stroke="#35357a" stroke-width="0" textLength="217.6" lengthAdjust="spacing">of limited deformation</text>
<text x="485.4" y="817.0999999999999" font-size="20" fill="#35357a" stroke="#35357a" stroke-width="0" textLength="217.6" lengthAdjust="spacing">and/or orographic rain</text>
<text x="485.4" y="835.5" font-size="20" fill="#35357a" stroke="#35357a" stroke-width="0" textLength="74" lengthAdjust="spacing">shadow</text>
<text x="755" y="789.4" font-size="20" fill="#35357a" stroke="#35357a" stroke-width="0" textLength="220.2" lengthAdjust="spacing">Rapid  uplift as a result</text>
<text x="755" y="808" font-size="20" fill="#35357a" stroke="#35357a" stroke-width="0" textLength="253" lengthAdjust="spacing">of India-Asia convergence</text>
<text x="142.6" y="931" font-size="26" font-weight="bold" fill="#e0302a" stroke="#e0302a" textLength="20" lengthAdjust="spacingAndGlyphs">A</text>
<text x="1198.4" y="907.6" font-size="26" font-weight="bold" fill="#e0302a" stroke="#e0302a" textLength="19.2" lengthAdjust="spacingAndGlyphs">B</text>
<text x="1158" y="915.3" font-size="20" fill="#111" stroke="#111" textLength="15.5" lengthAdjust="spacingAndGlyphs">N</text>
<text x="150.6" y="1040.5" font-size="21.5" fill="#111" stroke="#111" textLength="112" lengthAdjust="spacingAndGlyphs">Indian Plate</text>
<text x="376.5" y="1025.4" font-size="21.5" fill="#111" stroke="#111" textLength="90" lengthAdjust="spacingAndGlyphs">Himalaya</text>
<text x="497.7" y="1037.8" font-size="21.5" fill="#111" stroke="#111" textLength="131" lengthAdjust="spacingAndGlyphs">Lhasa/Ladakh</text>
<text x="679" y="1048" font-size="21" fill="#111" stroke="#111" textLength="103" lengthAdjust="spacingAndGlyphs">Karakorum/</text>
<text x="679" y="1066" font-size="21" fill="#111" stroke="#111" textLength="96.3" lengthAdjust="spacingAndGlyphs">Qiangtang</text>
<text x="945.3" y="1036" font-size="20" fill="#111" stroke="#111" textLength="43.2" lengthAdjust="spacingAndGlyphs">WKL</text>
<text x="1068" y="1044.7" font-size="26" fill="#111" stroke="#111" textLength="132.3" lengthAdjust="spacingAndGlyphs">Tarim craton</text>
<text x="253.6" y="965" font-size="19" fill="#111" stroke="#111" textLength="37.5" lengthAdjust="spacingAndGlyphs" transform="rotate(44.35 253.6 965)">MFT</text>
<text x="469.5" y="1013" font-size="18" fill="#111" stroke="#111" textLength="34" lengthAdjust="spacingAndGlyphs" transform="rotate(80 469.5 1013)">IYS</text>
<text x="641.5" y="1036.5" font-size="19" fill="#111" stroke="#111" textLength="40.6" lengthAdjust="spacingAndGlyphs" transform="rotate(55.53 641.5 1036.5)">BNS</text>
<text x="795.5" y="1020" font-size="19" fill="#111" stroke="#111" textLength="41" lengthAdjust="spacingAndGlyphs" transform="rotate(79 795.5 1020)">JRS</text>
<text x="935.4" y="1015.3" font-size="17" fill="#111" stroke="#111" textLength="34.0" lengthAdjust="spacingAndGlyphs" transform="rotate(-71.83 935.4 1015.3)">MKS</text>
<text x="1010.3" y="941" font-size="18" fill="#111" stroke="#111" textLength="48.5" lengthAdjust="spacingAndGlyphs" transform="rotate(56.28 1010.3 941)">MPT</text>
</g>
<path d="M1094.8,908.4 L1146,908.4" stroke="#24406a" stroke-width="2.6"/><path d="M1154.3,908.4 L1138,902 L1141,908.4 L1138,914.8 Z" fill="#24406a"/>
<path d="M927.5,980 L899,1076.4" stroke="#0a0a0a" stroke-width="1.8" fill="none"/>
<use href="#vol" transform="translate(527.4,916) scale(1.05)"/>
<use href="#blob2" transform="translate(526.4,906) scale(0.8)"/>
<use href="#vol" transform="translate(548.2,930) scale(1.05)"/>
<use href="#blob2" transform="translate(546.4,920.5) scale(0.9)"/>
<use href="#vol" transform="translate(553,957) scale(1.05)"/>
<use href="#blob2" transform="translate(551,947) scale(0.9)"/>
<use href="#vol" transform="translate(579.5,961) scale(1.05)"/>
<use href="#blob2" transform="translate(574.5,946) scale(1.3)"/>
<use href="#vol" transform="translate(808.8,905.5) scale(1.05)"/>
<use href="#mcap" transform="translate(808.8,905.5) scale(1.2)"/>
<use href="#vol" transform="translate(843.3,902) scale(1.05)"/>
<use href="#mcap" transform="translate(843.3,902) scale(1.2)"/>
<use href="#vol" transform="translate(889.4,925) scale(1.05)"/>
<use href="#mcap" transform="translate(889.4,925) scale(1.2)"/>
<use href="#vol" transform="translate(864.5,936.5) scale(1.05)"/>
<use href="#mcap" transform="translate(864.5,936.5) scale(1.2)"/>
<use href="#vol" transform="translate(837.6,956) scale(1.05)"/>
<use href="#mcap" transform="translate(837.6,956) scale(1.2)"/>
<use href="#arw" transform="translate(874,896.9) scale(0.95)"/>
<use href="#arw" transform="translate(931.6,916) scale(0.95)"/>
<use href="#arw" transform="translate(906.7,935.3) scale(0.95)"/>
<use href="#arw" transform="translate(941.2,962.1) scale(0.95)"/>
<g fill="none" stroke="#0a0a0a" stroke-width="1.5"><path d="M402.5,1009.4 L383,998 l6,0.5 M383,998 l3,4.5"/><path d="M398,1014 L380,1004"/><path d="M374,1019.3 L349,1014 l5,-3 M349,1014 l5,3"/><path d="M490.6,1008 L485,997 l0,5 M485,997 l4,3"/><path d="M550.3,1005 L567.4,993.7 M553,1009 L569,998 l-5,0"/><path d="M641.3,1022 L630,1009.4 l1,5 M630,1009.4 l4.5,2"/><path d="M684,1024.8 L709,998.2 M689,1027 L711,1004 l-5,1"/><path d="M919.3,1003.2 L928.7,979 L920.6,985"/><path d="M922,1001 L930.7,980.4"/><path d="M1003.9,1028.8 L1018.2,1015.5 l-5,1 M1018.2,1015.5 l-1,5"/></g></svg></body></html>
